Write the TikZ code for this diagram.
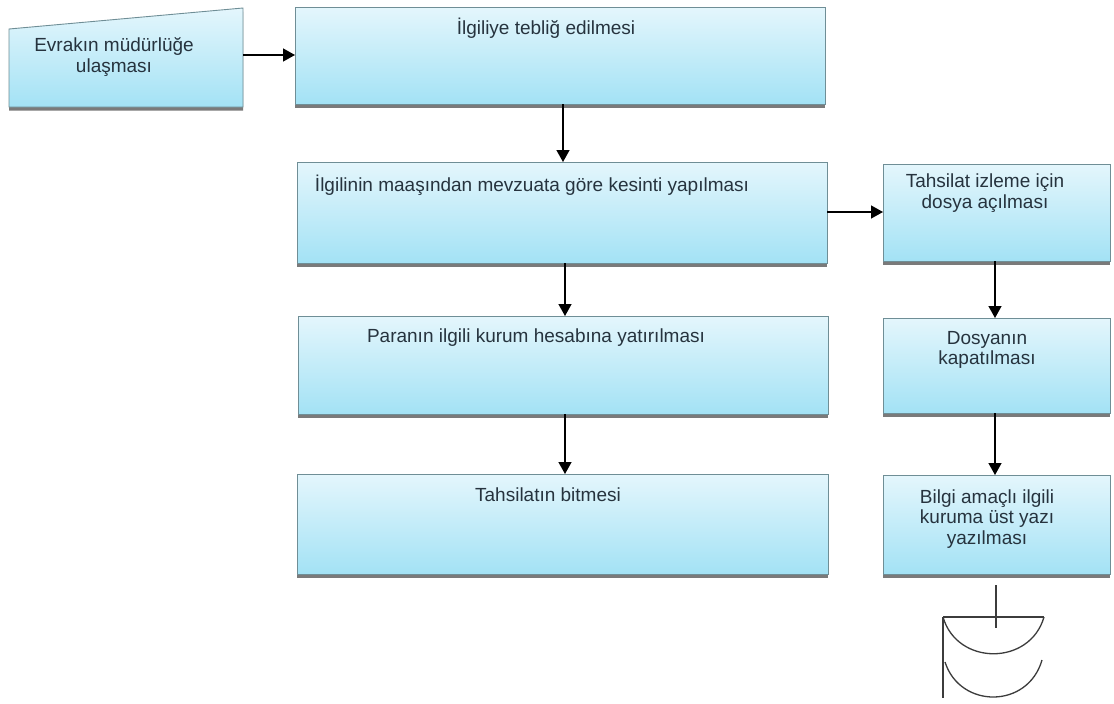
\documentclass[tikz,border=0pt]{standalone}
\usepackage{fontspec}
\setmainfont{Liberation Sans}
\usetikzlibrary{arrows.meta,shadows}
\definecolor{boxtop}{HTML}{E4F6FC}
\definecolor{boxbot}{HTML}{A3E2F5}
\definecolor{boxedge}{HTML}{6F8E96}
\definecolor{txt}{HTML}{26333E}
\definecolor{symb}{HTML}{3C3C3C}
\begin{document}
\begin{tikzpicture}[x=1pt,y=-1pt,
  procbox/.style={draw=boxedge,line width=0.9pt,top color=boxtop,bottom color=boxbot,
    drop shadow={shadow xshift=0pt,shadow yshift=-3.5pt,opacity=0.8,fill=gray!70!black}},
  lbl/.style={text=txt,font=\fontsize{19}{20.5}\selectfont,align=center,inner sep=0pt},
  flow/.style={draw=black,line width=1.4pt,-{Triangle[length=12pt,width=13pt]}},
  symline/.style={draw=symb,line width=1.3pt}]
\useasboundingbox (0,0) rectangle (1114,704);
\fill[white] (0,0) rectangle (1114,704);

% manual input shape
\path[procbox] (9,29) -- (243,8) -- (243,107) -- (9,107) -- cycle;
\coordinate (in-e) at (243,55);
\node[lbl] (t0) at (114,57) {Evrakın müdürlüğe\\ulaşması};

% main column
\path[procbox] (295,7) rectangle (825,104);
\coordinate (b1-w) at (295,55);
\coordinate (b1-s) at (563,104);
\node[lbl] (t1) at (546,28) {İlgiliye tebliğ edilmesi};

\path[procbox] (297,162) rectangle (827,263);
\coordinate (b2-n) at (563,162);
\coordinate (b2-s) at (565,263);
\coordinate (b2-e) at (827,212);
\node[lbl] (t2) at (532,185) {İlgilinin maaşından mevzuata göre kesinti yapılması};

\path[procbox] (298,316) rectangle (828,414);
\coordinate (b3-n) at (565,316);
\coordinate (b3-s) at (565,414);
\node[lbl] (t3) at (536,338) {Paranın ilgili kurum hesabına yatırılması};

\path[procbox] (297,474) rectangle (828,574);
\coordinate (b4-n) at (565,474);
\node[lbl] (t4) at (548,495) {Tahsilatın bitmesi};

% right column
\path[procbox] (883,164) rectangle (1110,261);
\coordinate (r1-w) at (883,212);
\coordinate (r1-s) at (995,261);
\node[lbl] (u1) at (985,193) {Tahsilat izleme için\\dosya açılması};

\path[procbox] (883,318) rectangle (1110,413);
\coordinate (r2-n) at (995,318);
\coordinate (r2-s) at (995,413);
\node[lbl] (u2) at (987,350) {Dosyanın\\kapatılması};

\path[procbox] (883,475) rectangle (1110,574);
\coordinate (r3-n) at (995,475);
\coordinate (r3-s) at (996,585);
\node[lbl] (u3) at (987,519) {Bilgi amaçlı ilgili\\kuruma üst yazı\\yazılması};

% connectors
\draw[flow] (in-e) -- (b1-w);
\draw[flow] (b1-s) -- (b2-n);
\draw[flow] (b2-s) -- (b3-n);
\draw[flow] (b3-s) -- (b4-n);
\draw[flow] (b2-e) -- (r1-w);
\draw[flow] (r1-s) -- (r2-n);
\draw[flow] (r2-s) -- (r3-n);

% archive / file symbol
\coordinate (sym-in) at (996,628);
\draw[symline] (r3-s) -- (sym-in);
\draw[symline] (943,617) -- (1044,617);
\draw[symline] (943,617) -- (943,698);
\draw[symline] (943,617) .. controls (957,666) and (1030,666) .. (1044,617);
\draw[symline] (945,662) .. controls (960,709) and (1028,709) .. (1042,660);
\end{tikzpicture}
\end{document}
